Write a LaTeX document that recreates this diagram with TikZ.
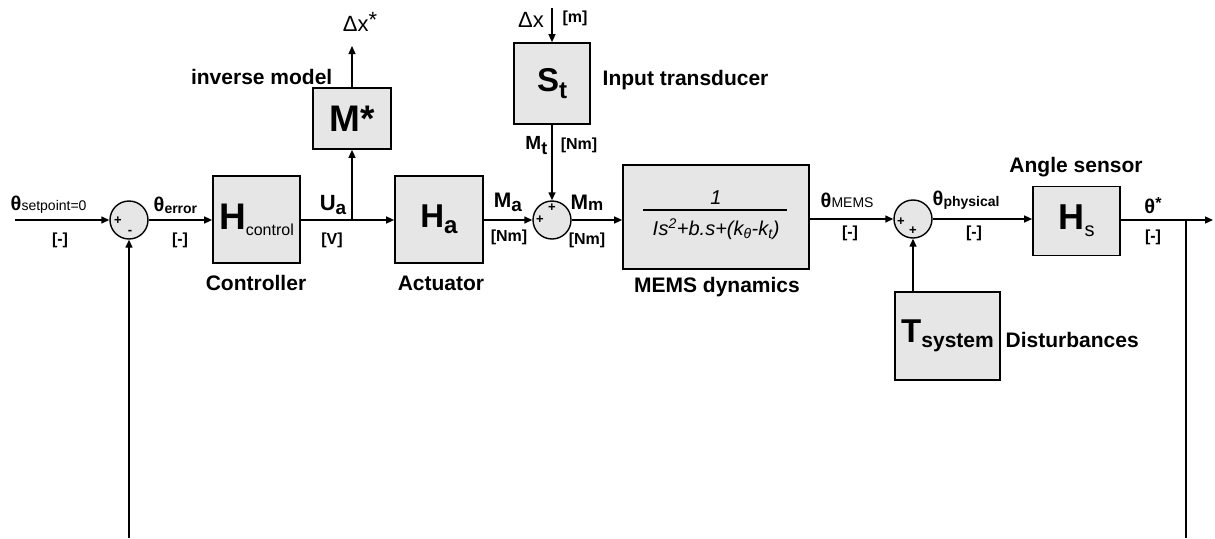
\documentclass[tikz,border=0pt]{standalone}
\usepackage{fontspec}
\setmainfont{Liberation Sans}
\usetikzlibrary{arrows.meta}
\definecolor{boxgray}{RGB}{230,230,230}
\newcommand\lblfont{\fontsize{21}{24}\selectfont\bfseries}
\newcommand\unitfont{\fontsize{16}{18}\selectfont\bfseries}
\newcommand\sgnfont{\fontsize{20}{22}\selectfont\bfseries}
\newcommand\pmfont{\fontsize{13}{14}\selectfont\bfseries}
\begin{document}
\begin{tikzpicture}[x=1pt,y=-1pt,line width=1.4pt,
  >={Triangle[length=8pt,width=7pt]},
  blk/.style n args={2}{draw,fill=boxgray,line width=1.7pt,inner sep=0pt,
     minimum width=#1,minimum height=#2},
  sumc/.style={draw,circle,fill=boxgray,line width=1.4pt,inner sep=0pt,minimum size=38pt},
  txt/.style={inner sep=0pt}]
\useasboundingbox (0,0) rectangle (1215,538);
% blocks
\node[blk={87pt}{87pt}] (Hc) at (256.5,219.5)
  {{\fontsize{37}{40}\selectfont\bfseries H}\raisebox{-6pt}{\fontsize{16}{18}\selectfont control}};
\node[blk={78pt}{61pt}] (Ms) at (352,118.5) {\fontsize{37}{40}\selectfont\bfseries M*};
\node[blk={88pt}{87pt}] (Ha) at (439,219.5)
  {{\fontsize{33}{36}\selectfont\bfseries H}\raisebox{-6pt}{\fontsize{24}{26}\selectfont\bfseries a}};
\node[blk={76pt}{81pt}] (St) at (552,83.5)
  {{\fontsize{33}{36}\selectfont\bfseries S}\raisebox{-7pt}{\fontsize{24}{26}\selectfont\bfseries t}};
\node[blk={186pt}{104pt}] (MEMS) at (716,217) {};
\node[blk={87pt}{69pt}] (Hs) at (1076.5,221)
  {{\fontsize{36}{38}\selectfont\bfseries H}\raisebox{-7pt}{\fontsize{20}{22}\selectfont s}};
\node[blk={105pt}{88pt}] (Tsys) at (947.5,336)
  {{\fontsize{33}{36}\selectfont\bfseries T}\raisebox{-5pt}{\lblfont system}};
% fraction in MEMS block
\node[txt] (num) at (716,198) {\fontsize{20}{22}\selectfont\itshape 1};
\draw[line width=1.2pt] (643,210) -- (787,210);
\node[txt] (den) at (716,229)
  {\fontsize{20}{22}\selectfont\itshape I\kern0.5pt s\textsuperscript{2}+b.s+(k\textsubscript{θ}-k\textsubscript{t})};
% summing junctions
\node[sumc] (sum1) at (129,220) {};
\node[sumc] (sum2) at (552,220) {};
\node[sumc] (sum3) at (913,219) {};
\node[txt] at (118,221) {\pmfont +};
\node[txt] at (130,232) {\pmfont -};
\node[txt] at (552,208) {\pmfont +};
\node[txt] at (540,220) {\pmfont +};
\node[txt] at (901,222) {\pmfont +};
\node[txt] at (913,231) {\pmfont +};
% coordinates
\coordinate (in) at (15,220);
\coordinate (ua) at (352,220);
\coordinate (dxs) at (352,46);
\coordinate (dxin) at (552,8);
\coordinate (out) at (1213,220);
\coordinate (fbr) at (1186,220);
\coordinate (fbrb) at (1186,538);
\coordinate (fblb) at (129,538);
% connectors
\draw[->] (in) -- (sum1.west);
\draw[->] (sum1.east) -- (Hc.west |- sum1.east);
\draw[->] (Hc.east |- sum1.east) -- (Ha.west |- sum1.east);
\draw[->] (ua) -- (Ms.south);
\draw[->] (Ms.north) -- (dxs);
\draw[->] (dxin) -- (St.north);
\draw[->] (St.south) -- (sum2.north);
\draw[->] (Ha.east |- sum2.west) -- (sum2.west);
\draw[->] (sum2.east) -- (MEMS.west |- sum2.east);
\draw[->] (MEMS.east |- sum3.west) -- (sum3.west);
\draw[->] (sum3.east) -- (Hs.west |- sum3.east);
\draw[->] (Hs.east |- out) -- (out);
\draw[->] (sum3.south |- Tsys.north) -- (sum3.south);
\draw (fbr) -- (fbrb);
\draw[->] (fblb) -- (sum1.south);
% signal labels
\node[txt,anchor=west] (lsp) at (10,205) {\sgnfont θ\fontsize{14}{16}\selectfont\mdseries setpoint=0};
\node[txt] (usp) at (60,240) {\unitfont [-]};
\node[txt,anchor=west] (ler) at (153,205) {\sgnfont θ\raisebox{-2pt}{\fontsize{14}{16}\selectfont error}};
\node[txt] (uer) at (180,240) {\unitfont [-]};
\node[txt] (lua) at (333,205) {{\fontsize{22}{24}\selectfont\bfseries U}\raisebox{-4pt}{\fontsize{19}{21}\selectfont\bfseries a}};
\node[txt] (uua) at (332,240) {\unitfont [V]};
\node[txt] (ldxs) at (360,22) {\fontsize{22}{24}\selectfont Δx\raisebox{4pt}{*}};
\node[txt] (ldx) at (531,20) {\fontsize{22}{24}\selectfont Δx};
\node[txt] (udx) at (575,18) {\unitfont [m]};
\node[txt,anchor=east] (lmt) at (548,146) {{\fontsize{19}{21}\selectfont\bfseries M}\raisebox{-5pt}{\fontsize{18}{20}\selectfont\bfseries t}};
\node[txt] (umt) at (579,145) {\unitfont [Nm]};
\node[txt] (lma) at (508,202) {{\fontsize{21}{23}\selectfont\bfseries M}\raisebox{-4pt}{\fontsize{19}{21}\selectfont\bfseries a}};
\node[txt] (uma) at (509,237) {\unitfont [Nm]};
\node[txt] (lmm) at (587,203) {{\fontsize{21}{23}\selectfont\bfseries M}\raisebox{-1pt}{\fontsize{17}{19}\selectfont\bfseries m}};
\node[txt] (umm) at (587,240) {\unitfont [Nm]};
\node[txt,anchor=west] (lme) at (820,200) {\sgnfont θ\fontsize{14}{16}\selectfont\mdseries MEMS};
\node[txt] (ume) at (850,233) {\unitfont [-]};
\node[txt,anchor=west] (lph) at (932,200) {\sgnfont θ\raisebox{-1pt}{\fontsize{14}{16}\selectfont physical}};
\node[txt] (uph) at (974,233) {\unitfont [-]};
\node[txt] (lth) at (1153,206) {\sgnfont θ\raisebox{5pt}{\fontsize{16}{18}\selectfont *}};
\node[txt] (uth) at (1153,237) {\unitfont [-]};
% block captions
\node[txt,anchor=east] at (333,77) {\lblfont inverse model};
\node[txt,anchor=west] at (602,80) {\lblfont Input transducer};
\node[txt] at (256,283) {\lblfont Controller};
\node[txt] at (441,283) {\lblfont Actuator};
\node[txt] at (717,287) {\lblfont MEMS dynamics};
\node[txt] at (1076,167) {\lblfont Angle sensor};
\node[txt,anchor=west] at (1005,340) {\lblfont Disturbances};
\end{tikzpicture}
\end{document}
